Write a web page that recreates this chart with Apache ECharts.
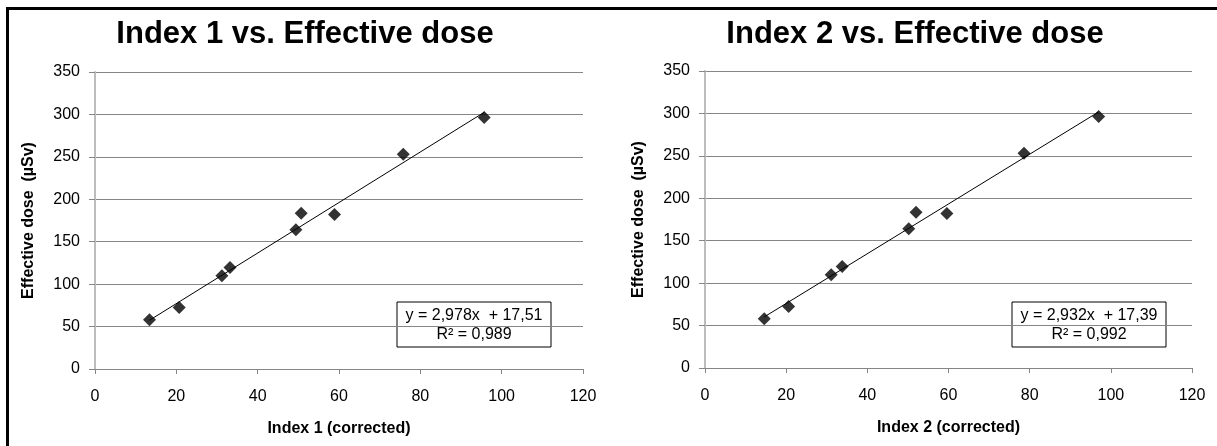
<!DOCTYPE html>
<html>
<head>
<meta charset="utf-8">
<script src="https://cdn.jsdelivr.net/npm/echarts@6/dist/echarts.min.js"></script>
<style>
  html, body { margin: 0; padding: 0; background: #fff; }
  #chart { width: 1217px; height: 446px; }
</style>
</head>
<body>
<div id="chart"></div>
<script>
// Effective dose (µSv) per examination, shared by both panels
const effectiveDose = [58, 72.5, 110, 119.5, 164, 183.5, 182, 253, 296.5];
// Corrected index values for the same examinations
const index1 = [13.4, 20.7, 31.2, 33.2, 49.4, 50.7, 58.9, 75.8, 95.7];
const index2 = [14.6, 20.6, 31.1, 33.8, 50.2, 52.0, 59.6, 78.6, 97.0];

// Linear fits: slope, intercept, R²
const fit1 = [2.978, 17.51, 0.989];
const fit2 = [2.932, 17.39, 0.992];

const titles = ['Index 1 vs. Effective dose', 'Index 2 vs. Effective dose'];
const xNames = ['Index 1 (corrected)', 'Index 2 (corrected)'];
const yName = 'Effective dose  (µSv)';

const FONT = '"Liberation Sans", Arial, sans-serif';
const GRID_COLOR = '#868686';

function pairs(xs, ys) { return xs.map((x, i) => [x, ys[i]]); }
function trend(xs, fit) {
  const lo = Math.min(...xs), hi = Math.max(...xs);
  return [[lo, fit[0] * lo + fit[1]], [hi, fit[0] * hi + fit[1]]];
}
function comma(v, d) { return v.toFixed(d).replace('.', ','); }
function fitText(fit) {
  return 'y = ' + comma(fit[0], 3) + 'x  + ' + comma(fit[1], 2) + '\nR² = ' + comma(fit[2], 3);
}

function xAxis(i) {
  return {
    gridIndex: i, type: 'value', min: 0, max: 120, interval: 20,
    splitLine: { show: false },
    axisLine: { show: true, onZero: false, lineStyle: { color: GRID_COLOR, width: 1 } },
    axisTick: { show: true, length: 5, lineStyle: { color: GRID_COLOR } },
    axisLabel: { color: '#000', fontSize: 16, fontFamily: FONT, margin: 20 },
    name: xNames[i], nameLocation: 'middle', nameGap: 52,
    nameTextStyle: { color: '#000', fontSize: 16, fontWeight: 'bold', fontFamily: FONT }
  };
}
function yAxis(i) {
  return {
    gridIndex: i, type: 'value', min: 0, max: 350, interval: 50,
    splitLine: { show: true, lineStyle: { color: GRID_COLOR, width: 1 } },
    axisLine: { show: true, onZero: false, lineStyle: { color: '#bdbdbd', width: 2 } },
    axisTick: { show: true, length: 6, lineStyle: { color: GRID_COLOR } },
    axisLabel: { color: '#000', fontSize: 16, fontFamily: FONT, margin: 15 },
    name: yName, nameLocation: 'middle', nameGap: 58,
    nameTextStyle: { color: '#000', fontSize: 16, fontWeight: 'bold', fontFamily: FONT }
  };
}

function scatter(i, xs) {
  return {
    type: 'scatter', xAxisIndex: i, yAxisIndex: i, z: 3,
    symbol: 'diamond', symbolSize: 13,
    itemStyle: { color: '#000' },
    data: pairs(xs, effectiveDose)
  };
}
function trendLine(i, xs, fit) {
  return {
    type: 'line', xAxisIndex: i, yAxisIndex: i, z: 2,
    symbol: 'none', silent: true,
    lineStyle: { color: '#000', width: 1 },
    data: trend(xs, fit)
  };
}

function fitBox(x, y, fit) {
  return {
    type: 'group', x: x, y: y, z: 10,
    children: [
      { type: 'rect', shape: { x: 0, y: 0, width: 154, height: 45 },
        style: { fill: '#fff', stroke: '#000', lineWidth: 1 } },
      { type: 'text', x: 77, y: 23,
        style: { text: fitText(fit), fill: '#000', font: '16px ' + FONT,
                 align: 'center', verticalAlign: 'middle', lineHeight: 19 } }
    ]
  };
}
function titleText(x, text) {
  return {
    type: 'text', x: x, y: 34,
    style: { text: text, fill: '#000', font: 'bold 31px ' + FONT,
             align: 'center', verticalAlign: 'middle' }
  };
}

const chart = echarts.init(document.getElementById('chart'), null, { renderer: 'canvas' });
chart.setOption({
  animation: false,
  backgroundColor: '#fff',
  grid: [
    { left: 95, top: 72, width: 488, height: 297 },
    { left: 705, top: 71, width: 487, height: 297 }
  ],
  xAxis: [xAxis(0), xAxis(1)],
  yAxis: [yAxis(0), yAxis(1)],
  series: [
    trendLine(0, index1, fit1), scatter(0, index1),
    trendLine(1, index2, fit2), scatter(1, index2)
  ],
  graphic: [
    // outer frame edges
    { type: 'line', shape: { x1: 6, y1: 8.5, x2: 1217, y2: 8.5 }, style: { stroke: '#000', lineWidth: 3 } },
    { type: 'line', shape: { x1: 7.5, y1: 7, x2: 7.5, y2: 446 }, style: { stroke: '#000', lineWidth: 3 } },
    titleText(305, titles[0]),
    titleText(915, titles[1]),
    fitBox(397, 302, fit1),
    fitBox(1012, 302, fit2)
  ]
});
</script>
</body>
</html>
